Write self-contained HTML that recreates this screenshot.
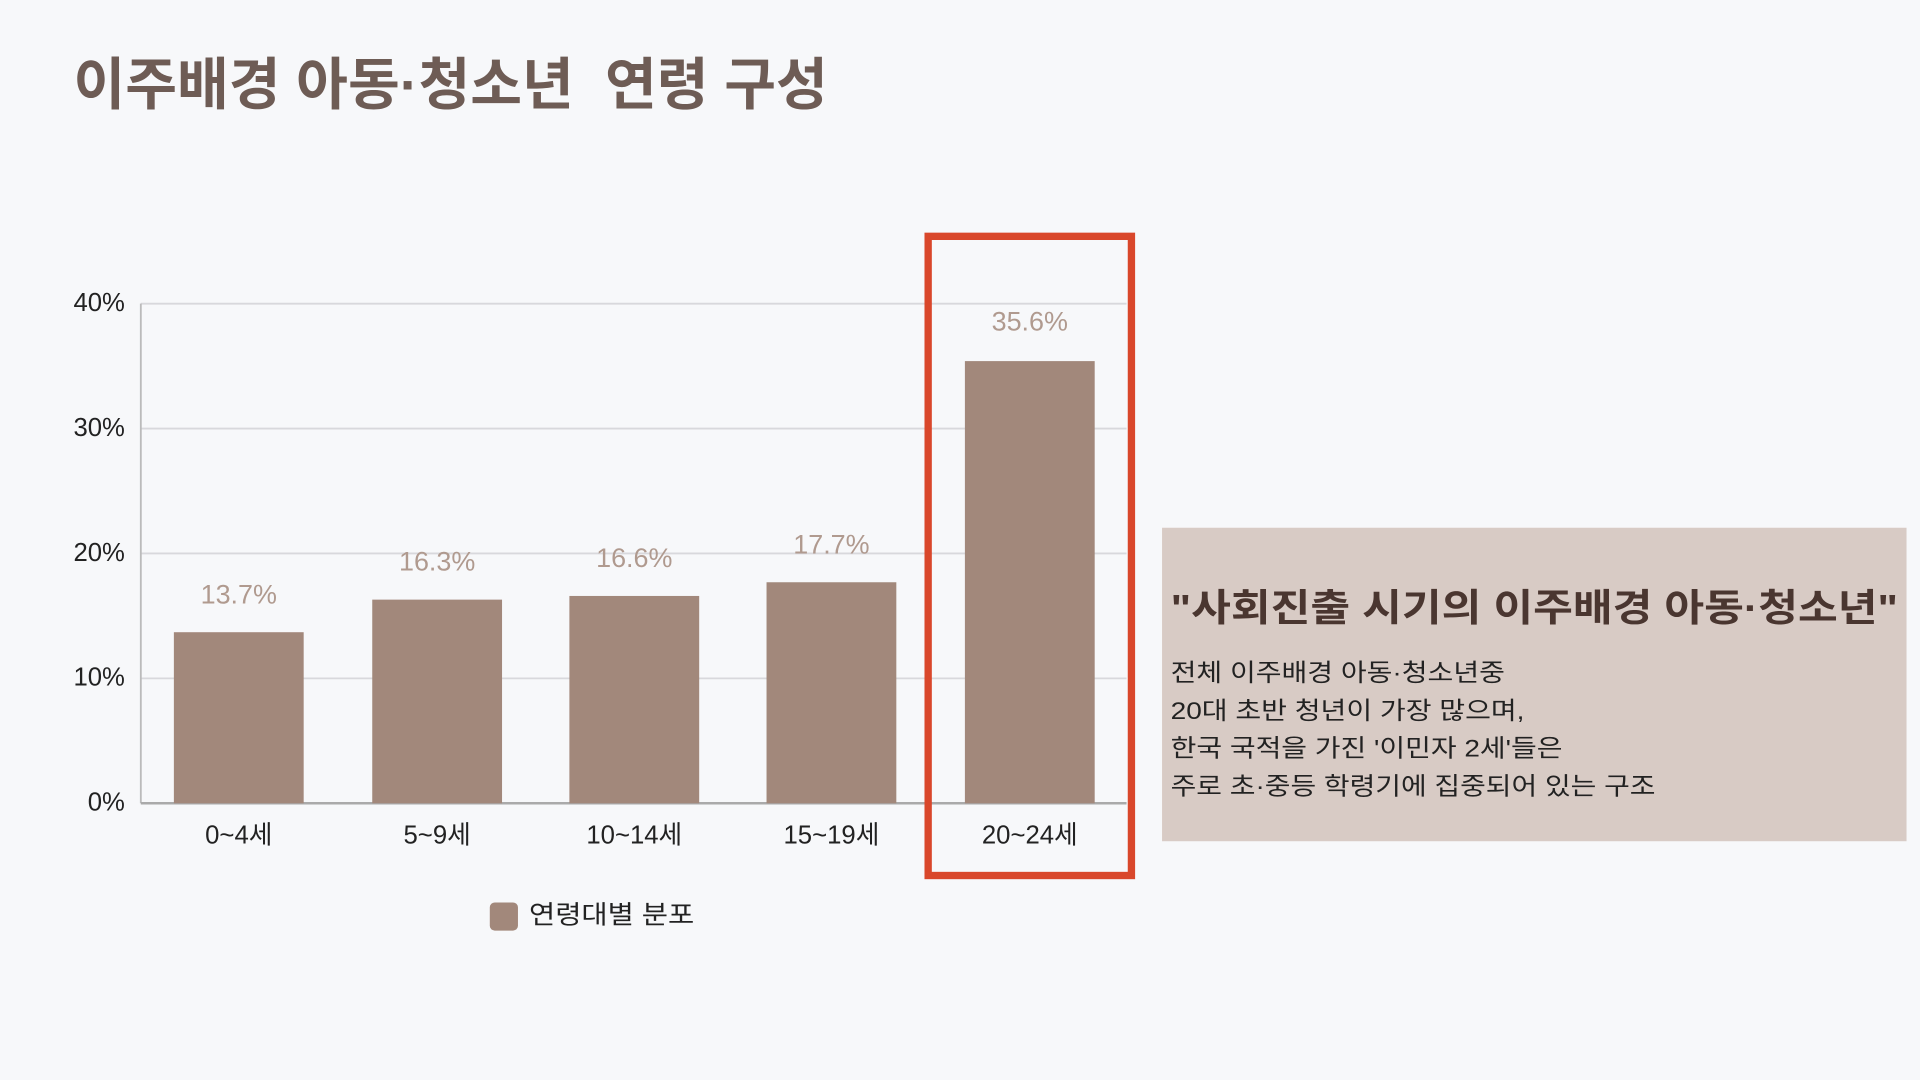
<!DOCTYPE html>
<html><head><meta charset="utf-8"><style>
html,body{margin:0;padding:0;width:1920px;height:1080px;overflow:hidden;background:#f7f8fa;}
#s{position:absolute;left:0;top:0;width:1568px;height:882px;transform:scale(1.22449);transform-origin:0 0;font-family:"Liberation Sans","Noto Sans CJK KR",sans-serif;}
.a{position:absolute;white-space:nowrap;}
</style></head><body><div id="s">
<svg class="a" style="left:0;top:0" width="1568" height="882" font-family="Liberation Sans, Noto Sans CJK KR, sans-serif">
<text x="60" y="85" font-size="46" font-weight="bold" fill="#6e5c55" textLength="616" lengthAdjust="spacingAndGlyphs">이주배경 아동·청소년&#160; 연령 구성</text>
<g stroke="#d8d8dc" stroke-width="1.5">
<line x1="115" y1="248" x2="920" y2="248"/><line x1="115" y1="350" x2="920" y2="350"/><line x1="115" y1="452" x2="920" y2="452"/><line x1="115" y1="554" x2="920" y2="554"/>
</g>
<line x1="115" y1="248" x2="115" y2="656" stroke="#bbb" stroke-width="1.5"/>
<line x1="115" y1="656" x2="920" y2="656" stroke="#aaa" stroke-width="2"/>
<g fill="#a2887b">
<rect x="142" y="516.3" width="106" height="139.7"/>
<rect x="304" y="489.7" width="106" height="166.3"/>
<rect x="465" y="486.7" width="106" height="169.3"/>
<rect x="626" y="475.5" width="106" height="180.5"/>
<rect x="788" y="294.9" width="106" height="361.1"/>
</g>
<g font-size="22" fill="#b09a8f" text-anchor="middle">
<text x="195" y="493">13.7%</text><text x="357" y="466">16.3%</text><text x="518" y="463">16.6%</text><text x="679" y="452">17.7%</text><text x="841" y="270">35.6%</text>
</g>
<g font-size="21" fill="#222" text-anchor="end">
<text x="102" y="254">40%</text><text x="102" y="356">30%</text><text x="102" y="458">20%</text><text x="102" y="560">10%</text><text x="102" y="662">0%</text>
</g>
<g font-size="21" fill="#222" text-anchor="middle">
<text x="195" y="689">0~4세</text><text x="357" y="689">5~9세</text><text x="518" y="689">10~14세</text><text x="679" y="689">15~19세</text><text x="841" y="689">20~24세</text>
</g>
<rect x="758" y="193" width="166" height="522" fill="none" stroke="#d9472b" stroke-width="6"/>
<rect x="400" y="737" width="23" height="23" rx="4" fill="#a2887b"/>
<text x="432" y="754" font-size="21" fill="#222" textLength="135" lengthAdjust="spacingAndGlyphs">연령대별 분포</text>
<rect x="949" y="431" width="608" height="256" fill="#d8cbc5"/>
<text x="956" y="507" font-size="31" font-weight="bold" fill="#4a3630" textLength="594" lengthAdjust="spacingAndGlyphs">"사회진출 시기의 이주배경 아동·청소년"</text>
<g font-size="20" fill="#222">
<text x="956" y="556" textLength="273" lengthAdjust="spacingAndGlyphs">전체 이주배경 아동·청소년중</text>
<text x="956" y="587" textLength="289" lengthAdjust="spacingAndGlyphs">20대 초반 청년이 가장 많으며,</text>
<text x="956" y="618" textLength="320" lengthAdjust="spacingAndGlyphs">한국 국적을 가진 '이민자 2세'들은</text>
<text x="956" y="649" textLength="396" lengthAdjust="spacingAndGlyphs">주로 초·중등 학령기에 집중되어 있는 구조</text>
</g>
</svg>
</div></body></html>
